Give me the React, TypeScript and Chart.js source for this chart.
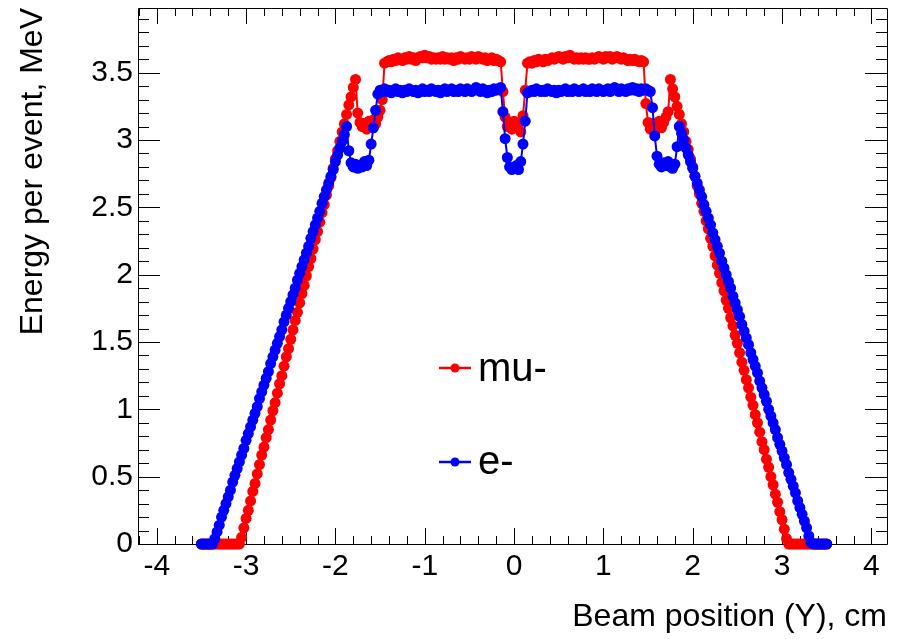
import React, { useEffect, useRef } from "react";
import { Chart, registerables } from "chart.js";

Chart.register(...registerables);

// Beam position grid (cm)
const X_POS = [
  -3.5, -3.475, -3.45, -3.425, -3.4, -3.375, -3.35, -3.325,
  -3.3, -3.275, -3.25, -3.225, -3.2, -3.175, -3.15, -3.125,
  -3.1, -3.075, -3.05, -3.025, -3, -2.975, -2.95, -2.925,
  -2.9, -2.875, -2.85, -2.825, -2.8, -2.775, -2.75, -2.725,
  -2.7, -2.675, -2.65, -2.625, -2.6, -2.575, -2.55, -2.525,
  -2.5, -2.475, -2.45, -2.425, -2.4, -2.375, -2.35, -2.325,
  -2.3, -2.275, -2.25, -2.225, -2.2, -2.175, -2.15, -2.125,
  -2.1, -2.075, -2.05, -2.025, -2, -1.975, -1.95, -1.925,
  -1.9, -1.875, -1.85, -1.825, -1.8, -1.775, -1.75, -1.725,
  -1.7, -1.675, -1.65, -1.625, -1.6, -1.575, -1.55, -1.525,
  -1.5, -1.475, -1.45, -1.425, -1.4, -1.375, -1.35, -1.325,
  -1.3, -1.275, -1.25, -1.225, -1.2, -1.175, -1.15, -1.125,
  -1.1, -1.075, -1.05, -1.025, -1, -0.975, -0.95, -0.925,
  -0.9, -0.875, -0.85, -0.825, -0.8, -0.775, -0.75, -0.725,
  -0.7, -0.675, -0.65, -0.625, -0.6, -0.575, -0.55, -0.525,
  -0.5, -0.475, -0.45, -0.425, -0.4, -0.375, -0.35, -0.325,
  -0.3, -0.275, -0.25, -0.225, -0.2, -0.175, -0.15, -0.125,
  -0.1, -0.075, -0.05, -0.025, 0, 0.025, 0.05, 0.075,
  0.1, 0.125, 0.15, 0.175, 0.2, 0.225, 0.25, 0.275,
  0.3, 0.325, 0.35, 0.375, 0.4, 0.425, 0.45, 0.475,
  0.5, 0.525, 0.55, 0.575, 0.6, 0.625, 0.65, 0.675,
  0.7, 0.725, 0.75, 0.775, 0.8, 0.825, 0.85, 0.875,
  0.9, 0.925, 0.95, 0.975, 1, 1.025, 1.05, 1.075,
  1.1, 1.125, 1.15, 1.175, 1.2, 1.225, 1.25, 1.275,
  1.3, 1.325, 1.35, 1.375, 1.4, 1.425, 1.45, 1.475,
  1.5, 1.525, 1.55, 1.575, 1.6, 1.625, 1.65, 1.675,
  1.7, 1.725, 1.75, 1.775, 1.8, 1.825, 1.85, 1.875,
  1.9, 1.925, 1.95, 1.975, 2, 2.025, 2.05, 2.075,
  2.1, 2.125, 2.15, 2.175, 2.2, 2.225, 2.25, 2.275,
  2.3, 2.325, 2.35, 2.375, 2.4, 2.425, 2.45, 2.475,
  2.5, 2.525, 2.55, 2.575, 2.6, 2.625, 2.65, 2.675,
  2.7, 2.725, 2.75, 2.775, 2.8, 2.825, 2.85, 2.875,
  2.9, 2.925, 2.95, 2.975, 3, 3.025, 3.05, 3.075,
  3.1, 3.125, 3.15, 3.175, 3.2, 3.225, 3.25, 3.275,
  3.3, 3.325, 3.35, 3.375, 3.4, 3.425, 3.45, 3.475,
  3.5,
];

// Energy per event (MeV), mu-
const MU_ENERGY = [
  0, 0, 0, 0, 0, 0, 0, 0,
  0, 0, 0, 0, 0, 0, 0, 0,
  0, 0, 0.05, 0.12, 0.19, 0.25, 0.32, 0.39,
  0.45, 0.52, 0.59, 0.66, 0.72, 0.79, 0.85, 0.92,
  0.99, 1.05, 1.12, 1.19, 1.25, 1.32, 1.39, 1.45,
  1.52, 1.59, 1.66, 1.72, 1.79, 1.86, 1.92, 1.99,
  2.06, 2.12, 2.19, 2.26, 2.32, 2.39, 2.46, 2.52,
  2.59, 2.66, 2.72, 2.79, 2.86, 2.92, 2.99, 3.06,
  3.12, 3.19, 3.26, 3.32, 3.39, 3.45, 3.2, 3.13,
  3.1, 3.12, 3.08, 3.14, 3.1, 3.15, 3.12, 3.17,
  3.22, 3.3, 3.57, 3.58, 3.59, 3.58, 3.6, 3.59,
  3.61, 3.6, 3.59, 3.61, 3.6, 3.62, 3.6, 3.61,
  3.59, 3.61, 3.62, 3.61, 3.63, 3.61, 3.62, 3.6,
  3.61, 3.6, 3.61, 3.6, 3.62, 3.6, 3.61, 3.6,
  3.61, 3.59, 3.61, 3.6, 3.62, 3.61, 3.6, 3.61,
  3.6, 3.62, 3.61, 3.6, 3.62, 3.61, 3.6, 3.61,
  3.59, 3.6, 3.61, 3.59, 3.6, 3.59, 3.58, 3.36,
  3.17, 3.1, 3.13, 3.08, 3.14, 3.1, 3.12, 3.06,
  3.18, 3.37, 3.57, 3.58, 3.57, 3.59, 3.58, 3.6,
  3.59, 3.58, 3.6, 3.59, 3.6, 3.61, 3.6, 3.61,
  3.62, 3.61, 3.6, 3.62, 3.61, 3.63, 3.61, 3.6,
  3.61, 3.6, 3.61, 3.6, 3.61, 3.6, 3.6, 3.61,
  3.6, 3.61, 3.62, 3.61, 3.6, 3.62, 3.61, 3.62,
  3.6, 3.61, 3.62, 3.61, 3.6, 3.61, 3.6, 3.59,
  3.6, 3.59, 3.6, 3.59, 3.58, 3.59, 3.58, 3.27,
  3.13, 3.08, 3.12, 3.06, 3.1, 3.14, 3.09, 3.13,
  3.17, 3.21, 3.45, 3.38, 3.32, 3.25, 3.19, 3.12,
  3.06, 2.99, 2.93, 2.86, 2.8, 2.73, 2.66, 2.6,
  2.53, 2.47, 2.4, 2.34, 2.27, 2.21, 2.14, 2.07,
  2.01, 1.94, 1.88, 1.81, 1.75, 1.68, 1.62, 1.55,
  1.49, 1.42, 1.35, 1.29, 1.22, 1.16, 1.09, 1.03,
  0.96, 0.9, 0.83, 0.76, 0.7, 0.63, 0.57, 0.5,
  0.44, 0.37, 0.31, 0.24, 0.18, 0.11, 0.04, 0,
  0, 0, 0, 0, 0, 0, 0, 0,
  0, 0, 0, 0, 0, 0, 0, 0,
  0,
];

// Energy per event (MeV), e-
const E_ENERGY = [
  0, 0, 0, 0, 0, 0, 0.04, 0.09,
  0.14, 0.2, 0.25, 0.3, 0.35, 0.4, 0.46, 0.51,
  0.56, 0.61, 0.66, 0.71, 0.77, 0.82, 0.87, 0.92,
  0.97, 1.02, 1.08, 1.13, 1.18, 1.23, 1.28, 1.34,
  1.39, 1.44, 1.49, 1.54, 1.59, 1.65, 1.7, 1.75,
  1.8, 1.85, 1.9, 1.96, 2.01, 2.06, 2.11, 2.16,
  2.21, 2.27, 2.32, 2.37, 2.42, 2.47, 2.53, 2.58,
  2.63, 2.68, 2.73, 2.78, 2.84, 2.89, 2.94, 2.99,
  3.04, 3.1, 2.92, 2.83, 2.8, 2.82, 2.79, 2.81,
  2.8, 2.84, 2.81, 2.85, 2.97, 3.09, 3.22, 3.34,
  3.37, 3.36, 3.38, 3.36, 3.37, 3.35, 3.37, 3.38,
  3.36, 3.37, 3.35, 3.37, 3.36, 3.38, 3.37, 3.36,
  3.37, 3.35, 3.36, 3.38, 3.36, 3.37, 3.36, 3.38,
  3.37, 3.36, 3.37, 3.35, 3.37, 3.38, 3.36, 3.37,
  3.38, 3.36, 3.37, 3.36, 3.38, 3.37, 3.36, 3.38,
  3.37, 3.36, 3.37, 3.39, 3.37, 3.36, 3.38, 3.37,
  3.35, 3.37, 3.36, 3.38, 3.37, 3.38, 3.39, 3.21,
  3.01, 2.87, 2.8, 2.78, 2.79, 2.81, 2.78, 2.84,
  2.97, 3.14, 3.35, 3.36, 3.37, 3.36, 3.38, 3.37,
  3.36, 3.37, 3.36, 3.38, 3.37, 3.36, 3.37, 3.35,
  3.37, 3.36, 3.37, 3.38, 3.36, 3.37, 3.36, 3.38,
  3.37, 3.36, 3.37, 3.38, 3.36, 3.37, 3.36, 3.38,
  3.37, 3.36, 3.38, 3.37, 3.36, 3.37, 3.38, 3.36,
  3.37, 3.39, 3.37, 3.36, 3.38, 3.37, 3.36, 3.38,
  3.37, 3.39, 3.37, 3.38, 3.36, 3.38, 3.37, 3.38,
  3.37, 3.36, 3.24, 3.03, 2.88, 2.82, 2.8, 2.83,
  2.81, 2.84, 2.8, 2.79, 2.82, 2.95, 3.1, 3.05,
  3.0, 2.94, 2.89, 2.84, 2.79, 2.73, 2.68, 2.63,
  2.58, 2.52, 2.47, 2.42, 2.37, 2.31, 2.26, 2.21,
  2.16, 2.1, 2.05, 2.0, 1.95, 1.9, 1.84, 1.79,
  1.74, 1.69, 1.63, 1.58, 1.53, 1.48, 1.42, 1.37,
  1.32, 1.27, 1.21, 1.16, 1.11, 1.06, 1.0, 0.95,
  0.9, 0.85, 0.79, 0.74, 0.69, 0.64, 0.59, 0.53,
  0.48, 0.43, 0.38, 0.32, 0.27, 0.22, 0.17, 0.12,
  0.06, 0.01, 0, 0, 0, 0, 0, 0,
  0,
];

const X_TICKS = [-4, -3, -2, -1, 0, 1, 2, 3, 4];
const Y_TICKS = [0, 0.5, 1, 1.5, 2, 2.5, 3, 3.5];
const SERIES_NAMES = ["mu-", "e-"];
const X_TITLE = "Beam position (Y), cm";
const Y_TITLE = "Energy per event, MeV";

const FONT = "'Liberation Sans', Arial, Helvetica, sans-serif";
const RED = "#ff0000";
const BLUE = "#0000ff";

const rootAxes = {
  id: "rootAxes",
  beforeDatasetsDraw(chart: any) {
    const { ctx, chartArea } = chart;
    const { left, right, top, bottom } = chartArea;
    const xs = chart.scales.x;
    const ys = chart.scales.y;
    ctx.save();
    ctx.strokeStyle = "#000";
    ctx.lineWidth = 1;
    ctx.beginPath();
    ctx.rect(Math.round(left) + 0.5, Math.round(top) + 0.5, Math.round(right - left), Math.round(bottom - top));
    ctx.stroke();
    ctx.beginPath();
    // x minor ticks every 0.2
    for (let k = -25; k <= 25; k++) {
      const v = k / 5;
      if (v < xs.min - 1e-9 || v > xs.max + 1e-9) continue;
      const px = Math.round(xs.getPixelForValue(v)) + 0.5;
      const major = k % 5 === 0;
      const len = major ? 16 : 8;
      ctx.moveTo(px, bottom);
      ctx.lineTo(px, bottom - len);
      ctx.moveTo(px, top);
      ctx.lineTo(px, top + len);
    }
    // y minor ticks every 0.1
    for (let k = 0; k <= 50; k++) {
      const v = k / 10;
      if (v < ys.min - 1e-9 || v > ys.max + 1e-9) continue;
      const py = Math.round(ys.getPixelForValue(v)) + 0.5;
      const major = k % 5 === 0;
      const len = major ? 22 : 11;
      ctx.moveTo(left, py);
      ctx.lineTo(left + len, py);
      ctx.moveTo(right, py);
      ctx.lineTo(right - len, py);
    }
    ctx.stroke();
    ctx.restore();
  },
};

const rootLegend = {
  id: "rootLegend",
  afterDraw(chart: any) {
    const { ctx, chartArea } = chart;
    const x0 = chartArea.left + 301;
    const x1 = x0 + 32;
    const entries = [
      { color: RED, y: 368, base: 381, label: SERIES_NAMES[0] },
      { color: BLUE, y: 462, base: 474, label: SERIES_NAMES[1] },
    ];
    ctx.save();
    for (const e of entries) {
      ctx.strokeStyle = e.color;
      ctx.lineWidth = 2.5;
      ctx.beginPath();
      ctx.moveTo(x0, e.y);
      ctx.lineTo(x1, e.y);
      ctx.stroke();
      ctx.fillStyle = e.color;
      ctx.beginPath();
      ctx.arc((x0 + x1) / 2, e.y, 4.5, 0, Math.PI * 2);
      ctx.fill();
      ctx.fillStyle = "#000";
      ctx.font = `40px ${FONT}`;
      ctx.textAlign = "left";
      ctx.textBaseline = "alphabetic";
      ctx.fillText(e.label, x1 + 7, e.base);
    }
    ctx.restore();
  },
};

export default function App() {
  const ref = useRef<HTMLCanvasElement>(null);
  useEffect(() => {
    document.body.style.margin = "0";
    if (!ref.current) return;
    const chart = new Chart(ref.current, {
      type: "line",
      data: {
        datasets: [
          {
            label: SERIES_NAMES[0],
            data: X_POS.map((x, i) => ({ x, y: MU_ENERGY[i] })),
            borderColor: RED,
            backgroundColor: RED,
            borderWidth: 2,
            pointRadius: 5.5,
            pointBorderWidth: 0,
            pointBackgroundColor: RED,
            tension: 0,
            clip: false,
            order: 2,
          },
          {
            label: SERIES_NAMES[1],
            data: X_POS.map((x, i) => ({ x, y: E_ENERGY[i] })),
            borderColor: BLUE,
            backgroundColor: BLUE,
            borderWidth: 2,
            pointRadius: 5.5,
            pointBorderWidth: 0,
            pointBackgroundColor: BLUE,
            tension: 0,
            clip: false,
            order: 1,
          },
        ],
      },
      options: {
        animation: false,
        responsive: false,
        devicePixelRatio: 1,
        layout: { padding: { top: 8, right: 15, left: 0, bottom: 0 } },
        plugins: {
          legend: { display: false },
          tooltip: { enabled: false },
        },
        scales: {
          x: {
            type: "linear",
            min: -4.21,
            max: 4.175,
            afterFit: (s: any) => {
              s.height = 95;
              s.paddingLeft = 0;
              s.paddingRight = 0;
            },
            afterBuildTicks: (s: any) => {
              s.ticks = X_TICKS.map((v) => ({ value: v }));
            },
            grid: { display: false, drawTicks: false },
            border: { display: false },
            ticks: {
              autoSkip: false,
              maxRotation: 0,
              padding: 5,
              color: "#000",
              font: { family: FONT, size: 30 },
              callback: (v: any) => String(v),
            },
            title: {
              display: true,
              text: X_TITLE,
              align: "end",
              color: "#000",
              font: { family: FONT, size: 32 },
              padding: { top: 0, bottom: 3 },
            },
          },
          y: {
            type: "linear",
            min: 0,
            max: 3.98,
            afterFit: (s: any) => {
              s.width = 138;
              s.paddingTop = 0;
              s.paddingBottom = 0;
            },
            afterBuildTicks: (s: any) => {
              s.ticks = Y_TICKS.map((v) => ({ value: v }));
            },
            grid: { display: false, drawTicks: false },
            border: { display: false },
            ticks: {
              autoSkip: false,
              padding: 5,
              color: "#000",
              font: { family: FONT, size: 30 },
              callback: (v: any) => String(v),
            },
            title: {
              display: true,
              text: Y_TITLE,
              align: "end",
              color: "#000",
              font: { family: FONT, size: 32 },
              padding: { top: 14, bottom: 0 },
            },
          },
        },
      },
      plugins: [rootAxes, rootLegend],
    } as any);
    return () => chart.destroy();
  }, []);
  return (
    <div style={{ width: 902, height: 639 }}>
      <canvas ref={ref} width={902} height={639} style={{ display: "block" }} />
    </div>
  );
}
